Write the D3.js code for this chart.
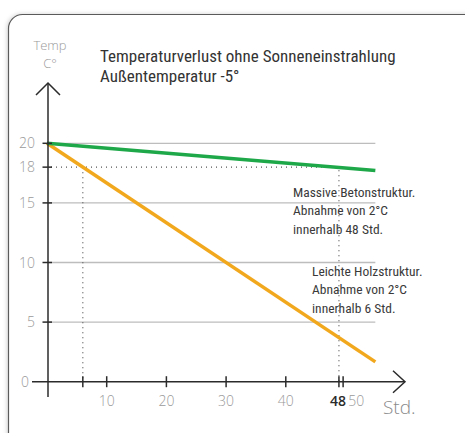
<!DOCTYPE html>
<html>
<head>
<meta charset="utf-8">
<script src="https://cdn.jsdelivr.net/npm/d3@7"></script>
<style>
    body { margin: 0; background: #fff; }
    svg { display: block; }
</style>
</head>
<body>
<script>
const w = 465;
const h = 433;

// data
const hours = [0, 55];
const massiv = [20, 20 - 55 * 2 / 48];   // 2°C in 48 Std.
const leicht = [20, 20 - 55 * 2 / 6];    // 2°C in 6 Std.
const gridTemps = [20, 15, 10, 5];
const yTicks = [0, 5, 10, 15, 18, 20];
const xTicks = [10, 20, 30, 40, 50];
const markHours = [6, 48];
const markTemp = 18;
const title = ["Temperaturverlust ohne Sonneneinstrahlung", "Außentemperatur -5°"];
const noteMassiv = ["Massive Betonstruktur.", "Abnahme von 2°C", "innerhalb 48 Std."];
const noteLeicht = ["Leichte Holzstruktur.", "Abnahme von 2°C", "innerhalb 6 Std."];

const svg = d3.select("body")
    .append("svg")
    .attr("width", w)
    .attr("height", h)
    ;

const defs = svg.append("defs");
const flt = defs.append("filter").attr("id", "shadow").attr("x", "-5%").attr("y", "-5%").attr("width", "110%").attr("height", "110%");
flt.append("feDropShadow").attr("dx", -1).attr("dy", 0).attr("stdDeviation", 2).attr("flood-color", "#000").attr("flood-opacity", 0.18);

// card
svg.append("rect")
    .attr("x", 8.5).attr("y", 14.5)
    .attr("width", 480).attr("height", 440)
    .attr("rx", 14)
    .attr("fill", "#fff")
    .attr("stroke", "#5a5a5a")
    .attr("stroke-width", 1.2)
    .attr("filter", "url(#shadow)")
    ;

const x = d3.scaleLinear().domain([0, 10]).range([47, 106.7]);
const y = d3.scaleLinear().domain([0, 20]).range([381.7, 143.3]);
// the 48 h mark sits a little right of the linear position in the original
const xMark = d => d === 48 ? x(48.9) : d === 50 ? x(49.6) : x(d);

const numFont = "'Open Sans', 'DejaVu Sans', sans-serif";
const narrow = "'Liberation Sans Narrow', 'Roboto Condensed', 'Arial Narrow', sans-serif";

// grid
svg.selectAll("line.grid")
    .data(gridTemps)
    .enter()
    .append("line")
    .attr("class", "grid")
    .attr("x1", x(0)).attr("x2", x(55))
    .attr("y1", d => y(d)).attr("y2", d => y(d))
    .attr("stroke", "#bdbdbd")
    .attr("stroke-width", 1.3)
    ;

// dotted helper lines
svg.append("line")
    .attr("x1", x(0) + 4).attr("x2", xMark(48))
    .attr("y1", y(markTemp)).attr("y2", y(markTemp))
    .attr("stroke", "#555").attr("stroke-width", 1.2).attr("stroke-dasharray", "1,4")
    ;
svg.append("line")
    .attr("x1", xMark(markHours[0])).attr("x2", xMark(markHours[0]))
    .attr("y1", y(markTemp)).attr("y2", y(0))
    .attr("stroke", "#555").attr("stroke-width", 1.2).attr("stroke-dasharray", "1,4")
    ;
svg.append("line")
    .attr("x1", xMark(markHours[1])).attr("x2", xMark(markHours[1]))
    .attr("y1", y(markTemp) + 3).attr("y2", y(0))
    .attr("stroke", "#555").attr("stroke-width", 1.2).attr("stroke-dasharray", "1,4")
    ;

// series
const line = d3.line().x(d => x(d[0])).y(d => y(d[1]));
svg.append("path")
    .datum(hours.map((d, i) => [d, leicht[i]]))
    .attr("d", line)
    .attr("fill", "none")
    .attr("stroke", "#f2a81d")
    .attr("stroke-width", 3.5)
    ;
svg.append("path")
    .datum(hours.map((d, i) => [d, massiv[i]]))
    .attr("d", line)
    .attr("fill", "none")
    .attr("stroke", "#1fa84a")
    .attr("stroke-width", 3.5)
    ;

// axes
const axisColor = "#2b2b2b";
svg.append("line")
    .attr("x1", x(0) + 1).attr("x2", x(0) + 1)
    .attr("y1", 83).attr("y2", 397)
    .attr("stroke", axisColor).attr("stroke-width", 1.5)
    ;
svg.append("path")
    .attr("d", `M${x(0) - 11},${95} L${x(0) + 1},${83} L${x(0) + 13},${95}`)
    .attr("fill", "none").attr("stroke", axisColor).attr("stroke-width", 1.5)
    ;
svg.append("line")
    .attr("x1", 32).attr("x2", 405)
    .attr("y1", y(0)).attr("y2", y(0))
    .attr("stroke", axisColor).attr("stroke-width", 1.5)
    ;
svg.append("path")
    .attr("d", `M393,${y(0) - 11} L405,${y(0)} L393,${y(0) + 11}`)
    .attr("fill", "none").attr("stroke", axisColor).attr("stroke-width", 1.5)
    ;

// y ticks
svg.selectAll("line.ytick")
    .data(yTicks.filter(d => d > 0))
    .enter()
    .append("line")
    .attr("class", "ytick")
    .attr("x1", 42.5).attr("x2", 52)
    .attr("y1", d => y(d)).attr("y2", d => y(d))
    .attr("stroke", axisColor).attr("stroke-width", 1.5)
    ;
svg.selectAll("text.ylab")
    .data(yTicks)
    .enter()
    .append("text")
    .attr("class", "ylab")
    .attr("x", d => d === 0 ? 29 : 35)
    .attr("y", d => y(d) + 5)
    .attr("text-anchor", "end")
    .attr("font-family", numFont)
    .attr("font-weight", 300)
    .attr("font-size", 14)
    .attr("fill", "#9a9a9a")
    .text(d => d)
    ;

// x ticks
svg.selectAll("line.xtick")
    .data(xTicks.concat(markHours))
    .enter()
    .append("line")
    .attr("class", "xtick")
    .attr("x1", d => xMark(d))
    .attr("x2", d => xMark(d))
    .attr("y1", y(0) - 5.5).attr("y2", y(0) + 5.5)
    .attr("stroke", axisColor).attr("stroke-width", 1.5)
    ;
svg.selectAll("text.xlab")
    .data(xTicks)
    .enter()
    .append("text")
    .attr("class", "xlab")
    .attr("x", d => d === 50 ? x(51.8) : x(d))
    .attr("y", 406)
    .attr("text-anchor", "middle")
    .attr("font-family", numFont)
    .attr("font-weight", 300)
    .attr("font-size", 14)
    .attr("fill", "#9a9a9a")
    .text(d => d)
    ;
svg.append("text")
    .attr("x", xMark(48) - 1)
    .attr("y", 406)
    .attr("text-anchor", "middle")
    .attr("font-family", numFont)
    .attr("font-weight", 600)
    .attr("font-size", 14)
    .attr("fill", "#2b2b2b")
    .text(markHours[1])
    ;
svg.append("text")
    .attr("x", 383).attr("y", 414)
    .attr("font-family", numFont)
    .attr("font-weight", 300)
    .attr("font-size", 19)
    .attr("fill", "#8a8a8a")
    .text("Std.")
    ;

// axis title
svg.append("text")
    .attr("x", 50).attr("y", 50)
    .attr("text-anchor", "middle")
    .attr("font-family", numFont).attr("font-weight", 300)
    .attr("font-size", 13).attr("fill", "#9a9a9a")
    .text("Temp")
    ;
svg.append("text")
    .attr("x", 50).attr("y", 68)
    .attr("text-anchor", "middle")
    .attr("font-family", numFont).attr("font-weight", 300)
    .attr("font-size", 13).attr("fill", "#9a9a9a")
    .text("C°")
    ;

// title
svg.selectAll("text.title")
    .data(title)
    .enter()
    .append("text")
    .attr("class", "title")
    .attr("x", 100)
    .attr("y", (d, i) => 62 + i * 20)
    .attr("font-family", narrow)
    .attr("font-size", 17)
    .attr("fill", "#333")
    .text(d => d)
    ;

// notes
function note(lines, x0, y0) {
    svg.selectAll(null)
        .data(lines)
        .enter()
        .append("text")
        .attr("x", x0)
        .attr("y", (d, i) => y0 + i * 18.3)
        .attr("font-family", narrow)
        .attr("font-size", 13.5)
        .attr("fill", "#3a3a3a")
        .text(d => d)
        ;
}
note(noteMassiv, 293, 197);
note(noteLeicht, 312, 276);
</script>
</body>
</html>
